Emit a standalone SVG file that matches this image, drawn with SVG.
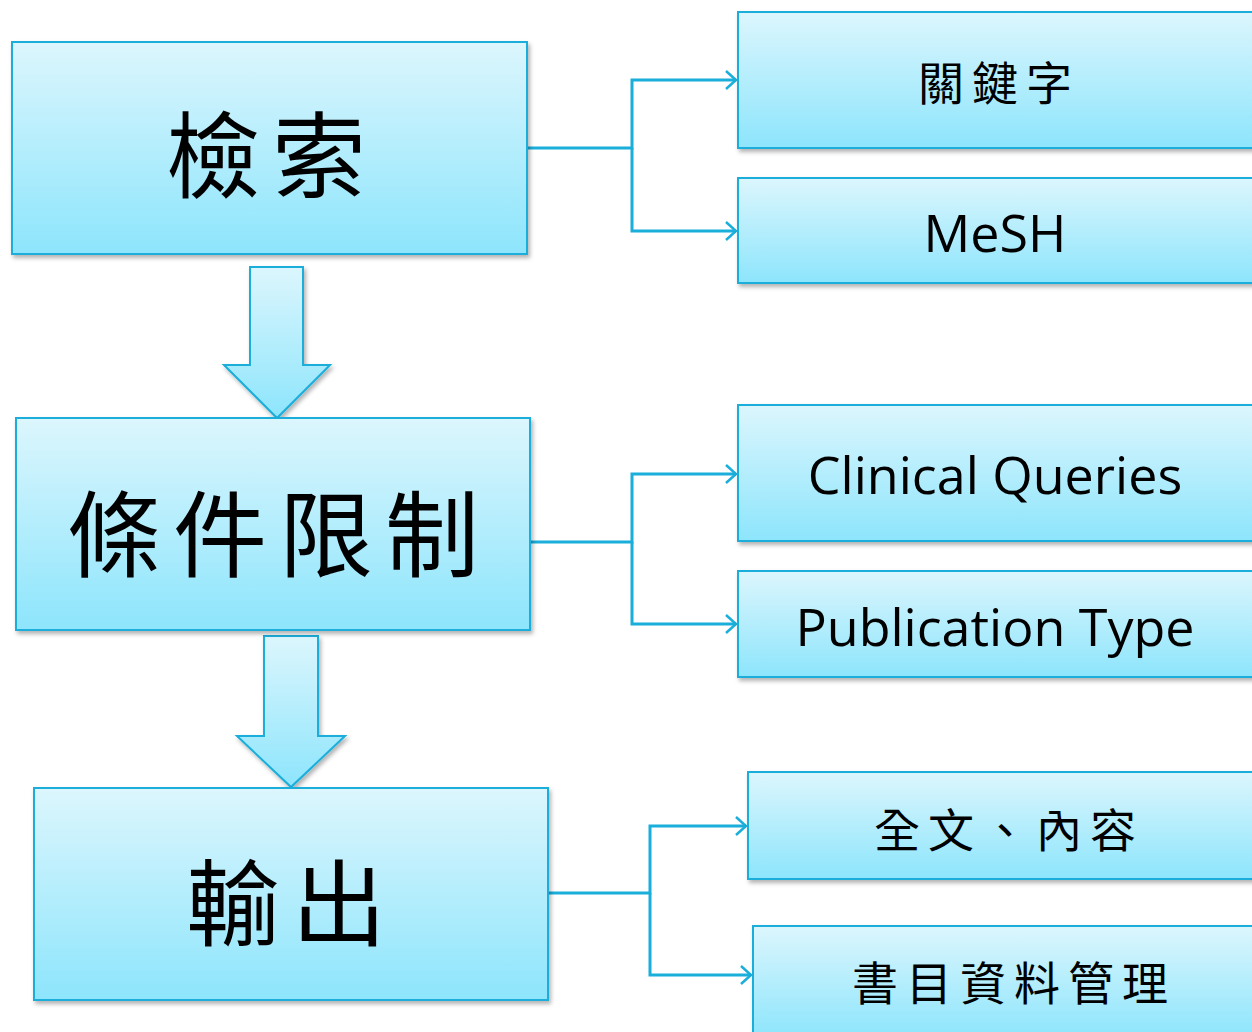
<svg xmlns="http://www.w3.org/2000/svg" width="1252" height="1032" viewBox="0 0 1252 1032">
<defs>
<linearGradient id="g" x1="0" y1="0" x2="0" y2="1">
<stop offset="0" stop-color="#dcf6fd"/>
<stop offset="1" stop-color="#8de5fc"/>
</linearGradient>
<filter id="sh" x="-10%" y="-10%" width="120%" height="130%">
<feDropShadow dx="2" dy="3" stdDeviation="2" flood-color="#000" flood-opacity="0.3"/>
</filter>
<marker id="ah" viewBox="0 0 12 20" refX="11" refY="10" markerWidth="12" markerHeight="20" markerUnits="userSpaceOnUse" orient="auto">
<path d="M1,1 L11,10 L1,19" fill="none" stroke="#1aaedb" stroke-width="2.5"/>
</marker>
</defs>
<style>
.box{fill:url(#g);stroke:#1aaedb;stroke-width:2;filter:url(#sh)}
.conn{fill:none;stroke:#1aaedb;stroke-width:3}
.big{font-family:"Noto Sans CJK TC","Noto Sans CJK SC",sans-serif;font-size:94px;fill:#000;text-anchor:middle;dominant-baseline:central;letter-spacing:12px}
.sm{font-family:"Noto Sans CJK TC","Noto Sans CJK SC",sans-serif;font-size:46px;fill:#000;text-anchor:middle;dominant-baseline:central;letter-spacing:8px}
.en{font-family:"Open Sans","DejaVu Sans",sans-serif;font-size:52px;fill:#000;text-anchor:middle;dominant-baseline:central}
</style>
<g id="connectors">
<path class="conn" d="M527,148 H632 V80 H736" marker-end="url(#ah)"/>
<path class="conn" d="M632,148 V231 H736" marker-end="url(#ah)"/>
<path class="conn" d="M528,542 H632 V474 H736" marker-end="url(#ah)"/>
<path class="conn" d="M632,542 V624 H736" marker-end="url(#ah)"/>
<path class="conn" d="M543,893 H650 V826 H746" marker-end="url(#ah)"/>
<path class="conn" d="M650,893 V975 H751" marker-end="url(#ah)"/>
</g>
<g id="arrow1">
<path class="box" d="M250,267 H303 V365 H330 L277,418 L224,365 H250 Z"/>
</g>
<g id="arrow2">
<path class="box" d="M264,636 H318 V736 H345 L291,787 L237,736 H264 Z"/>
</g>
<g id="n1">
<rect class="box" x="12" y="42" width="515" height="212"/>
<text class="big" x="272" y="150">檢索</text>
</g>
<g id="n2">
<rect class="box" x="16" y="418" width="514" height="212"/>
<text class="big" x="279" y="529">條件限制</text>
</g>
<g id="n3">
<rect class="box" x="34" y="788" width="514" height="212"/>
<text class="big" x="292" y="898">輸出</text>
</g>
<g id="n4">
<rect class="box" x="738" y="12" width="520" height="136"/>
<text class="sm" x="999" y="80">關鍵字</text>
</g>
<g id="n5">
<rect class="box" x="738" y="178" width="520" height="105"/>
<text class="en" x="995" y="231">MeSH</text>
</g>
<g id="n6">
<rect class="box" x="738" y="405" width="520" height="136"/>
<text class="en" x="995" y="473">Clinical Queries</text>
</g>
<g id="n7">
<rect class="box" x="738" y="571" width="520" height="106"/>
<text class="en" x="995" y="625">Publication Type</text>
</g>
<g id="n8">
<rect class="box" x="748" y="772" width="510" height="107"/>
<text class="sm" x="1009" y="827">全文、內容</text>
</g>
<g id="n9">
<rect class="box" x="753" y="926" width="505" height="112"/>
<text class="sm" x="1014" y="980">書目資料管理</text>
</g>
</svg>
